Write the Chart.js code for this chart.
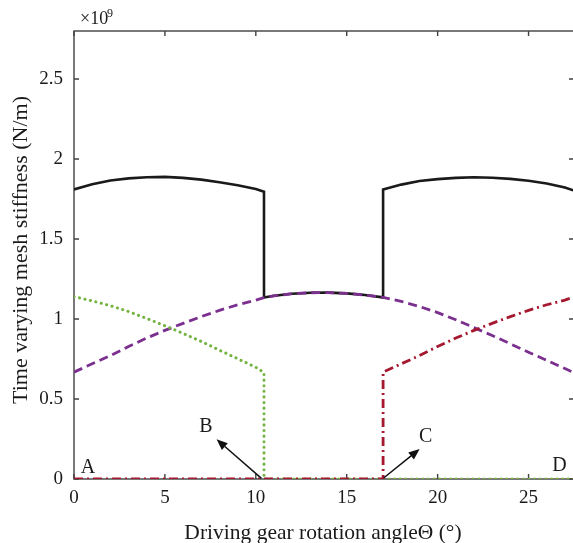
<!DOCTYPE html>
<html>
<head>
<meta charset="utf-8">
<script src="https://cdn.jsdelivr.net/npm/chart.js@4/dist/chart.umd.min.js"></script>
<style>
  html, body { margin: 0; padding: 0; background: #fff; overflow: hidden; }
</style>
</head>
<body>
<canvas id="chart" width="575" height="543"></canvas>
<script>
// rotation angle (deg); repeated values make the vertical jumps
const angle = [0, 1, 2, 3, 4, 5, 6, 7, 8, 9, 10, 10.45, 10.45, 11, 12, 13, 14, 15, 16, 17, 17,
  18, 19, 20, 21, 22, 23, 24, 25, 26, 27, 27.5];

// stiffness values in units of 1e9 N/m
const totalK = [1.81, 1.842, 1.866, 1.879, 1.886, 1.888, 1.882, 1.871, 1.855, 1.836, 1.812, 1.796, 1.134,
  1.145, 1.158, 1.164, 1.165, 1.16, 1.15, 1.135, 1.81,
  1.84, 1.862, 1.874, 1.882, 1.886, 1.883, 1.876, 1.864, 1.847, 1.822, 1.803];
const pairK = [0.668, 0.72, 0.771, 0.828, 0.881, 0.929, 0.973, 1.015, 1.054, 1.089, 1.118, 1.134, 1.134,
  1.145, 1.158, 1.164, 1.165, 1.16, 1.15, 1.135, 1.135,
  1.11, 1.078, 1.04, 0.995, 0.946, 0.897, 0.845, 0.792, 0.742, 0.69, 0.664];
const prevK = [1.14, 1.113, 1.083, 1.047, 1.003, 0.958, 0.91, 0.86, 0.805, 0.752, 0.698, 0.665, 0,
  0, 0, 0, 0, 0, 0, 0, 0,
  0, 0, 0, 0, 0, 0, 0, 0, 0, 0, 0];
const nextK = [0, 0, 0, 0, 0, 0, 0, 0, 0, 0, 0, 0, 0,
  0, 0, 0, 0, 0, 0, 0, 0.668,
  0.72, 0.771, 0.828, 0.881, 0.929, 0.973, 1.015, 1.054, 1.089, 1.118, 1.138];

const xTicks = [0, 5, 10, 15, 20, 25];
const yTicks = [0, 0.5, 1, 1.5, 2, 2.5];

// letter marks and arrows, in data units
const markLabels = ["A", "B", "C", "D"];
const markX = [0.77, 7.25, 19.34, 26.7];
const markY = [0.069, 0.325, 0.2625, 0.081];
const arrowFrom = [[10.31, 0.004], [17.03, 0.006]];
const arrowTo = [[7.84, 0.248], [19.01, 0.1875]];

const serif = "'Liberation Serif', 'DejaVu Serif', serif";

function pts(ys) {
  return angle.map((a, i) => ({ x: a, y: ys[i] }));
}

const boxPlugin = {
  id: "box",
  beforeDatasetsDraw(chart) {
    const { ctx, chartArea: a, scales } = chart;
    const sx = scales.x, sy = scales.y;
    ctx.save();
    // frame with inward ticks
    ctx.strokeStyle = "#404040";
    ctx.lineWidth = 1.4;
    ctx.strokeRect(a.left, a.top, a.right - a.left, a.bottom - a.top);
    ctx.beginPath();
    xTicks.forEach(v => {
      const x = sx.getPixelForValue(v);
      ctx.moveTo(x, a.bottom); ctx.lineTo(x, a.bottom - 5);
      ctx.moveTo(x, a.top); ctx.lineTo(x, a.top + 5);
    });
    yTicks.forEach(v => {
      const y = sy.getPixelForValue(v);
      ctx.moveTo(a.left, y); ctx.lineTo(a.left + 5, y);
      ctx.moveTo(a.right, y); ctx.lineTo(a.right - 5, y);
    });
    ctx.stroke();
    ctx.restore();
  },
  afterDatasetsDraw(chart) {
    const { ctx, scales } = chart;
    const sx = scales.x, sy = scales.y;
    ctx.save();

    // arrows
    ctx.strokeStyle = "#111";
    ctx.fillStyle = "#111";
    ctx.lineWidth = 1.5;
    arrowFrom.forEach((f, i) => {
      const x0 = sx.getPixelForValue(f[0]), y0 = sy.getPixelForValue(f[1]);
      const x1 = sx.getPixelForValue(arrowTo[i][0]), y1 = sy.getPixelForValue(arrowTo[i][1]);
      const ang = Math.atan2(y1 - y0, x1 - x0);
      const hl = 11, hw = 4.5;
      const bx = x1 - hl * Math.cos(ang), by = y1 - hl * Math.sin(ang);
      ctx.beginPath();
      ctx.moveTo(x0, y0);
      ctx.lineTo(bx, by);
      ctx.stroke();
      ctx.beginPath();
      ctx.moveTo(x1, y1);
      ctx.lineTo(bx + hw * Math.sin(ang), by - hw * Math.cos(ang));
      ctx.lineTo(bx - hw * Math.sin(ang), by + hw * Math.cos(ang));
      ctx.closePath();
      ctx.fill();
    });

    // letters
    ctx.font = "20px " + serif;
    ctx.textAlign = "center";
    ctx.textBaseline = "middle";
    ctx.fillStyle = "#1a1a1a";
    markLabels.forEach((t, i) => {
      ctx.fillText(t, sx.getPixelForValue(markX[i]), sy.getPixelForValue(markY[i]));
    });

    // axis titles and exponent
    ctx.textBaseline = "alphabetic";
    ctx.font = "21.5px " + serif;
    ctx.fillText("Driving gear rotation angle\u0398 (\u00b0)", 323, 539);
    ctx.save();
    ctx.translate(27, 250);
    ctx.rotate(-Math.PI / 2);
    ctx.font = "22px " + serif;
    ctx.fillText("Time varying mesh stiffness (N/m)", 0, 0);
    ctx.restore();
    ctx.textAlign = "left";
    ctx.font = "18px " + serif;
    ctx.fillText("\u00d710", 80, 24);
    ctx.font = "12px " + serif;
    ctx.fillText("9", 107, 17);

    ctx.restore();
  }
};

const tickFont = { family: serif, size: 19 };

new Chart(document.getElementById("chart"), {
  type: "line",
  data: {
    datasets: [
      {
        label: "next pair",
        data: pts(nextK),
        borderColor: "#a5182f",
        borderWidth: 2.8,
        borderDash: [9, 4, 2, 4],
        pointRadius: 0,
        order: 1
      },
      {
        label: "previous pair",
        data: pts(prevK),
        borderColor: "#72b33f",
        borderWidth: 3,
        borderDash: [0.1, 5.5],
        borderCapStyle: "round",
        pointRadius: 0,
        order: 2
      },
      {
        label: "single pair",
        data: pts(pairK),
        borderColor: "#7b2f8e",
        borderWidth: 2.8,
        borderDash: [9, 5],
        pointRadius: 0,
        order: 3
      },
      {
        label: "total",
        data: pts(totalK),
        borderColor: "#1a1a1a",
        borderWidth: 2.6,
        pointRadius: 0,
        order: 4
      }
    ]
  },
  options: {
    responsive: false,
    animation: false,
    devicePixelRatio: 1,
    layout: { padding: { top: 31, right: 1, left: 0, bottom: 0 } },
    plugins: {
      legend: { display: false },
      tooltip: { enabled: false }
    },
    scales: {
      x: {
        type: "linear",
        min: 0,
        max: 27.5,
        grid: { display: false, drawTicks: false },
        border: { display: false },
        ticks: { font: tickFont, color: "#1a1a1a", padding: 8, maxRotation: 0 },
        afterBuildTicks: s => { s.ticks = xTicks.map(v => ({ value: v })); },
        afterFit: s => { s.height = 64; }
      },
      y: {
        min: 0,
        max: 2.8,
        grid: { display: false, drawTicks: false },
        border: { display: false },
        ticks: { font: tickFont, color: "#1a1a1a", padding: 11, callback: v => String(v) },
        afterBuildTicks: s => { s.ticks = yTicks.map(v => ({ value: v })); },
        afterFit: s => { s.width = 74; }
      }
    }
  },
  plugins: [boxPlugin]
});
</script>
</body>
</html>
